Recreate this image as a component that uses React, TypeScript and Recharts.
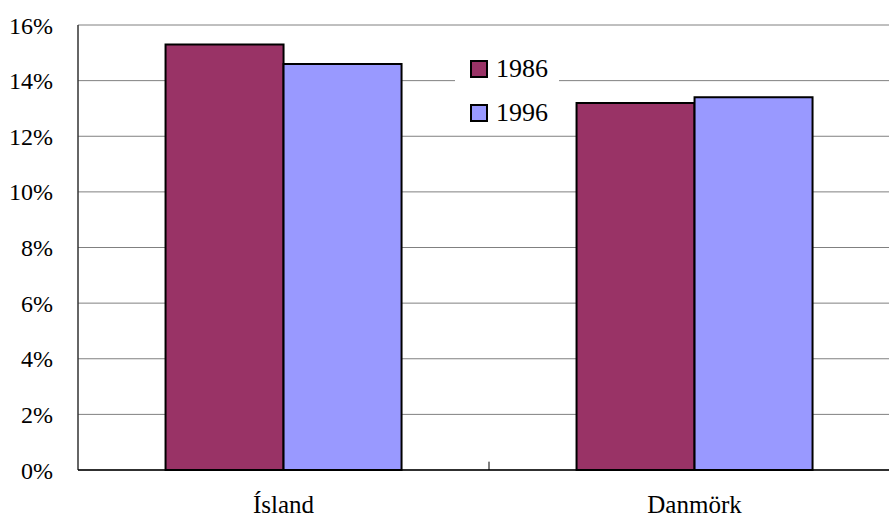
import { BarChart, Bar, XAxis, YAxis, CartesianGrid, Legend, ReferenceLine } from "recharts";

const countries = ["Ísland", "Danmörk"];
const y1986 = [15.3, 13.2];
const y1996 = [14.6, 13.4];
const yTicks = [0, 2, 4, 6, 8, 10, 12, 14, 16];

const data = countries.map((c, i) => ({ name: c, a: y1986[i], b: y1996[i] }));

const font = "'Liberation Serif', 'Times New Roman', serif";

function LegendBox() {
  const items = [
    { label: "1986", color: "#993366" },
    { label: "1996", color: "#9999FF" },
  ];
  return (
    <div style={{ background: "#fff", padding: "4px 0 4px 15px", width: 89, fontFamily: font, fontSize: 26, lineHeight: "26px" }}>
      {items.map((it, i) => (
        <div key={it.label} style={{ display: "flex", alignItems: "center", height: 26, marginTop: i ? 18 : 0 }}>
          <span style={{ width: 14, height: 14, border: "2px solid #000", background: it.color, marginRight: 8, display: "inline-block" }} />
          <span>{it.label}</span>
        </div>
      ))}
    </div>
  );
}

export default function App() {
  return (
    <div style={{ position: "absolute", left: 0, top: 0, width: 889, height: 520, overflow: "hidden", background: "#fff", fontFamily: font }}>
      <BarChart
        width={900}
        height={520}
        data={data}
        margin={{ top: 25, right: 0, left: 0, bottom: 0 }}
        barCategoryGap="21.3%"
        barGap={0}
      >
        <CartesianGrid vertical={false} stroke="#808080" strokeWidth={1} />
        <YAxis
          width={78}
          domain={[0, 16]}
          ticks={yTicks}
          tickFormatter={(v) => `${v}%`}
          tickSize={0}
          tickMargin={25}
          axisLine={{ stroke: "#333", strokeWidth: 1.5 }}
          tick={{ fill: "#000", fontSize: 24, fontFamily: font }}
          interval={0}
        />
        <XAxis
          dataKey="name"
          height={50}
          tickSize={0}
          tickMargin={25}
          axisLine={{ stroke: "#000", strokeWidth: 1.5 }}
          tick={{ fill: "#000", fontSize: 25, fontFamily: font }}
        />
        <ReferenceLine
          segment={[{ x: countries[0], y: 0 }, { x: countries[0], y: 0.3 }]}
          position="end"
          stroke="#000"
          strokeWidth={1}
        />
        <Legend
          layout="vertical"
          verticalAlign="middle"
          align="center"
          content={() => <LegendBox />}
          wrapperStyle={{ left: 455, top: 52, width: 104, height: "auto" }}
        />
        <Bar dataKey="a" name="1986" fill="#993366" stroke="#000" strokeWidth={2} isAnimationActive={false} />
        <Bar dataKey="b" name="1996" fill="#9999FF" stroke="#000" strokeWidth={2} isAnimationActive={false} />
      </BarChart>
    </div>
  );
}
